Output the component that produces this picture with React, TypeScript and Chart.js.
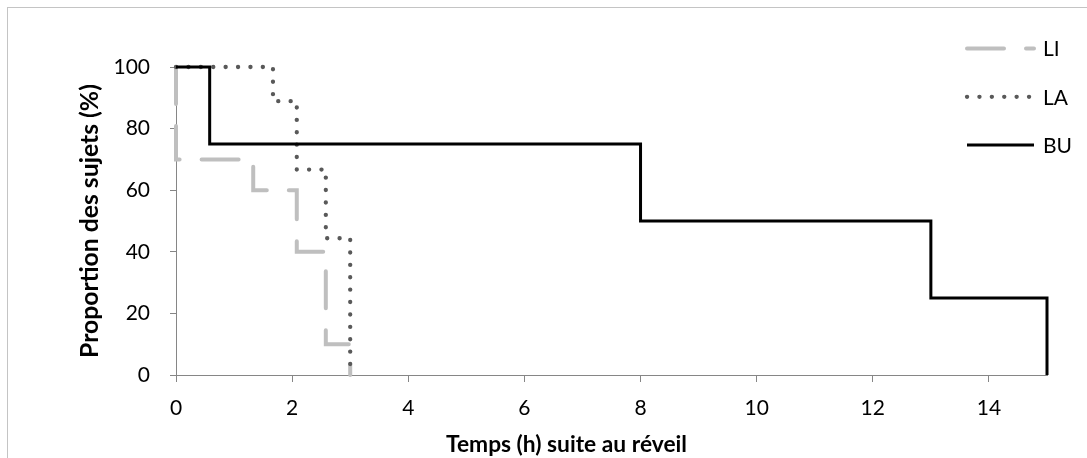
import React, { useEffect, useRef } from "react";
import { Chart, registerables } from "chart.js";

Chart.register(...registerables);

// ---- Data ----
const seriesNames = ["LI", "LA", "BU"];
const liTimes = [0, 0, 1.33, 2.08, 2.58, 3];
const liValues = [100, 70, 60, 40, 10, 0];
const laTimes = [0, 1.67, 2.08, 2.58, 3];
const laValues = [100, 88.9, 66.7, 44.4, 0];
const buTimes = [0, 0.58, 8, 13, 15];
const buValues = [100, 75, 50, 25, 0];
const xTicks = [0, 2, 4, 6, 8, 10, 12, 14];
const yTicks = [0, 20, 40, 60, 80, 100];
const xTitle = "Temps (h) suite au réveil";
const yTitle = "Proportion des sujets (%)";

const FONT = "Lato, 'Noto Sans', sans-serif";
const W = 1087;
const H = 458;

const toPoints = (xs: number[], ys: number[]) => xs.map((x, i) => ({ x, y: ys[i] }));

// choose a bold font size so that the text spans the target width
const fitBold = (ctx: CanvasRenderingContext2D, text: string, target: number) => {
  ctx.font = `bold 20px ${FONT}`;
  const w = ctx.measureText(text).width || target;
  const size = Math.max(16, Math.min(26, (20 * target) / w));
  return `bold ${size.toFixed(2)}px ${FONT}`;
};

const overlayPlugin = {
  id: "overlay",
  afterDraw(chart: any) {
    const ctx = chart.ctx as CanvasRenderingContext2D;
    const { top, bottom } = chart.chartArea;
    // Y axis title
    ctx.save();
    ctx.fillStyle = "#000";
    ctx.font = fitBold(ctx, yTitle, 274);
    ctx.translate(90, (top + bottom) / 2);
    ctx.rotate(-Math.PI / 2);
    ctx.textAlign = "center";
    ctx.textBaseline = "middle";
    ctx.fillText(yTitle, 0, 0);
    ctx.restore();
    // X axis title
    ctx.save();
    ctx.fillStyle = "#000";
    ctx.font = fitBold(ctx, xTitle, 241);
    ctx.textAlign = "center";
    ctx.textBaseline = "alphabetic";
    ctx.fillText(xTitle, 566.5, 452);
    ctx.restore();
    // Legend
    chart.data.datasets.forEach((ds: any, i: number) => {
      const y = 48.5 + i * 48.3;
      ctx.save();
      ctx.strokeStyle = ds.borderColor;
      ctx.lineWidth = ds.borderWidth;
      ctx.lineCap = ds.borderCapStyle || "butt";
      ctx.setLineDash(ds.borderDash || []);
      ctx.beginPath();
      ctx.moveTo(967, y);
      ctx.lineTo(1034, y);
      ctx.stroke();
      ctx.setLineDash([]);
      ctx.fillStyle = "#000";
      ctx.font = `21px ${FONT}`;
      ctx.textAlign = "left";
      ctx.textBaseline = "middle";
      ctx.fillText(ds.label, 1043, y + 1);
      ctx.restore();
    });
  },
};

export default function App() {
  const canvasRef = useRef<HTMLCanvasElement | null>(null);

  useEffect(() => {
    const canvas = canvasRef.current;
    if (!canvas) return;
    const axisColor = "#868686";
    const chart = new Chart(canvas, {
      type: "line",
      data: {
        datasets: [
          {
            label: seriesNames[0],
            data: toPoints(liTimes, liValues),
            borderColor: "#BFBFBF",
            borderWidth: 4,
            borderDash: [37, 22],
            borderCapStyle: "round",
            stepped: "before",
            pointRadius: 0,
            pointHoverRadius: 0,
            fill: false,
            clip: false,
            order: 2,
          },
          {
            label: seriesNames[1],
            data: toPoints(laTimes, laValues),
            borderColor: "#595959",
            borderWidth: 4.3,
            borderDash: [0.1, 12.3],
            borderCapStyle: "round",
            stepped: "before",
            pointRadius: 0,
            pointHoverRadius: 0,
            fill: false,
            clip: false,
            order: 1,
          },
          {
            label: seriesNames[2],
            data: toPoints(buTimes, buValues),
            borderColor: "#000000",
            borderWidth: 3,
            borderCapStyle: "butt",
            stepped: "before",
            pointRadius: 0,
            pointHoverRadius: 0,
            fill: false,
            clip: false,
            order: 0,
          },
        ],
      } as any,
      options: {
        animation: false,
        responsive: false,
        devicePixelRatio: 1,
        events: [],
        layout: { padding: { left: 0, top: 67, right: 40, bottom: 0 } },
        plugins: {
          legend: { display: false },
          tooltip: { enabled: false },
          title: { display: false },
        },
        scales: {
          x: {
            type: "linear",
            min: 0,
            max: 15,
            afterBuildTicks: (s: any) => {
              s.ticks = xTicks.map((v) => ({ value: v }));
            },
            afterFit: (s: any) => {
              s.height = H - 375;
            },
            grid: { drawOnChartArea: false, drawTicks: true, tickLength: 7, color: axisColor, lineWidth: 1 },
            border: { display: true, color: axisColor, width: 1 },
            ticks: {
              color: "#000",
              font: { family: FONT, size: 21 },
              padding: 14,
              maxRotation: 0,
              autoSkip: false,
            },
          },
          y: {
            type: "linear",
            min: 0,
            max: 100,
            afterBuildTicks: (s: any) => {
              s.ticks = yTicks.map((v) => ({ value: v }));
            },
            afterFit: (s: any) => {
              s.width = 176;
            },
            grid: { drawOnChartArea: false, drawTicks: true, tickLength: 6, color: axisColor, lineWidth: 1 },
            border: { display: true, color: axisColor, width: 1 },
            ticks: {
              color: "#000",
              font: { family: FONT, size: 21 },
              padding: 20,
              autoSkip: false,
            },
          },
        },
      } as any,
      plugins: [overlayPlugin],
    });
    return () => chart.destroy();
  }, []);

  return (
    <div
      style={{
        position: "fixed",
        left: 0,
        top: 0,
        width: W,
        height: H,
        overflow: "hidden",
        background: "#fff",
      }}
    >
      <div
        style={{
          position: "absolute",
          left: 7,
          top: 7,
          width: W + 20,
          height: H + 20,
          border: "1px solid #C4C4C4",
          boxSizing: "border-box",
        }}
      />
      <canvas
        ref={canvasRef}
        width={W}
        height={H}
        style={{ position: "absolute", left: 0, top: 0, width: W, height: H }}
      />
    </div>
  );
}
